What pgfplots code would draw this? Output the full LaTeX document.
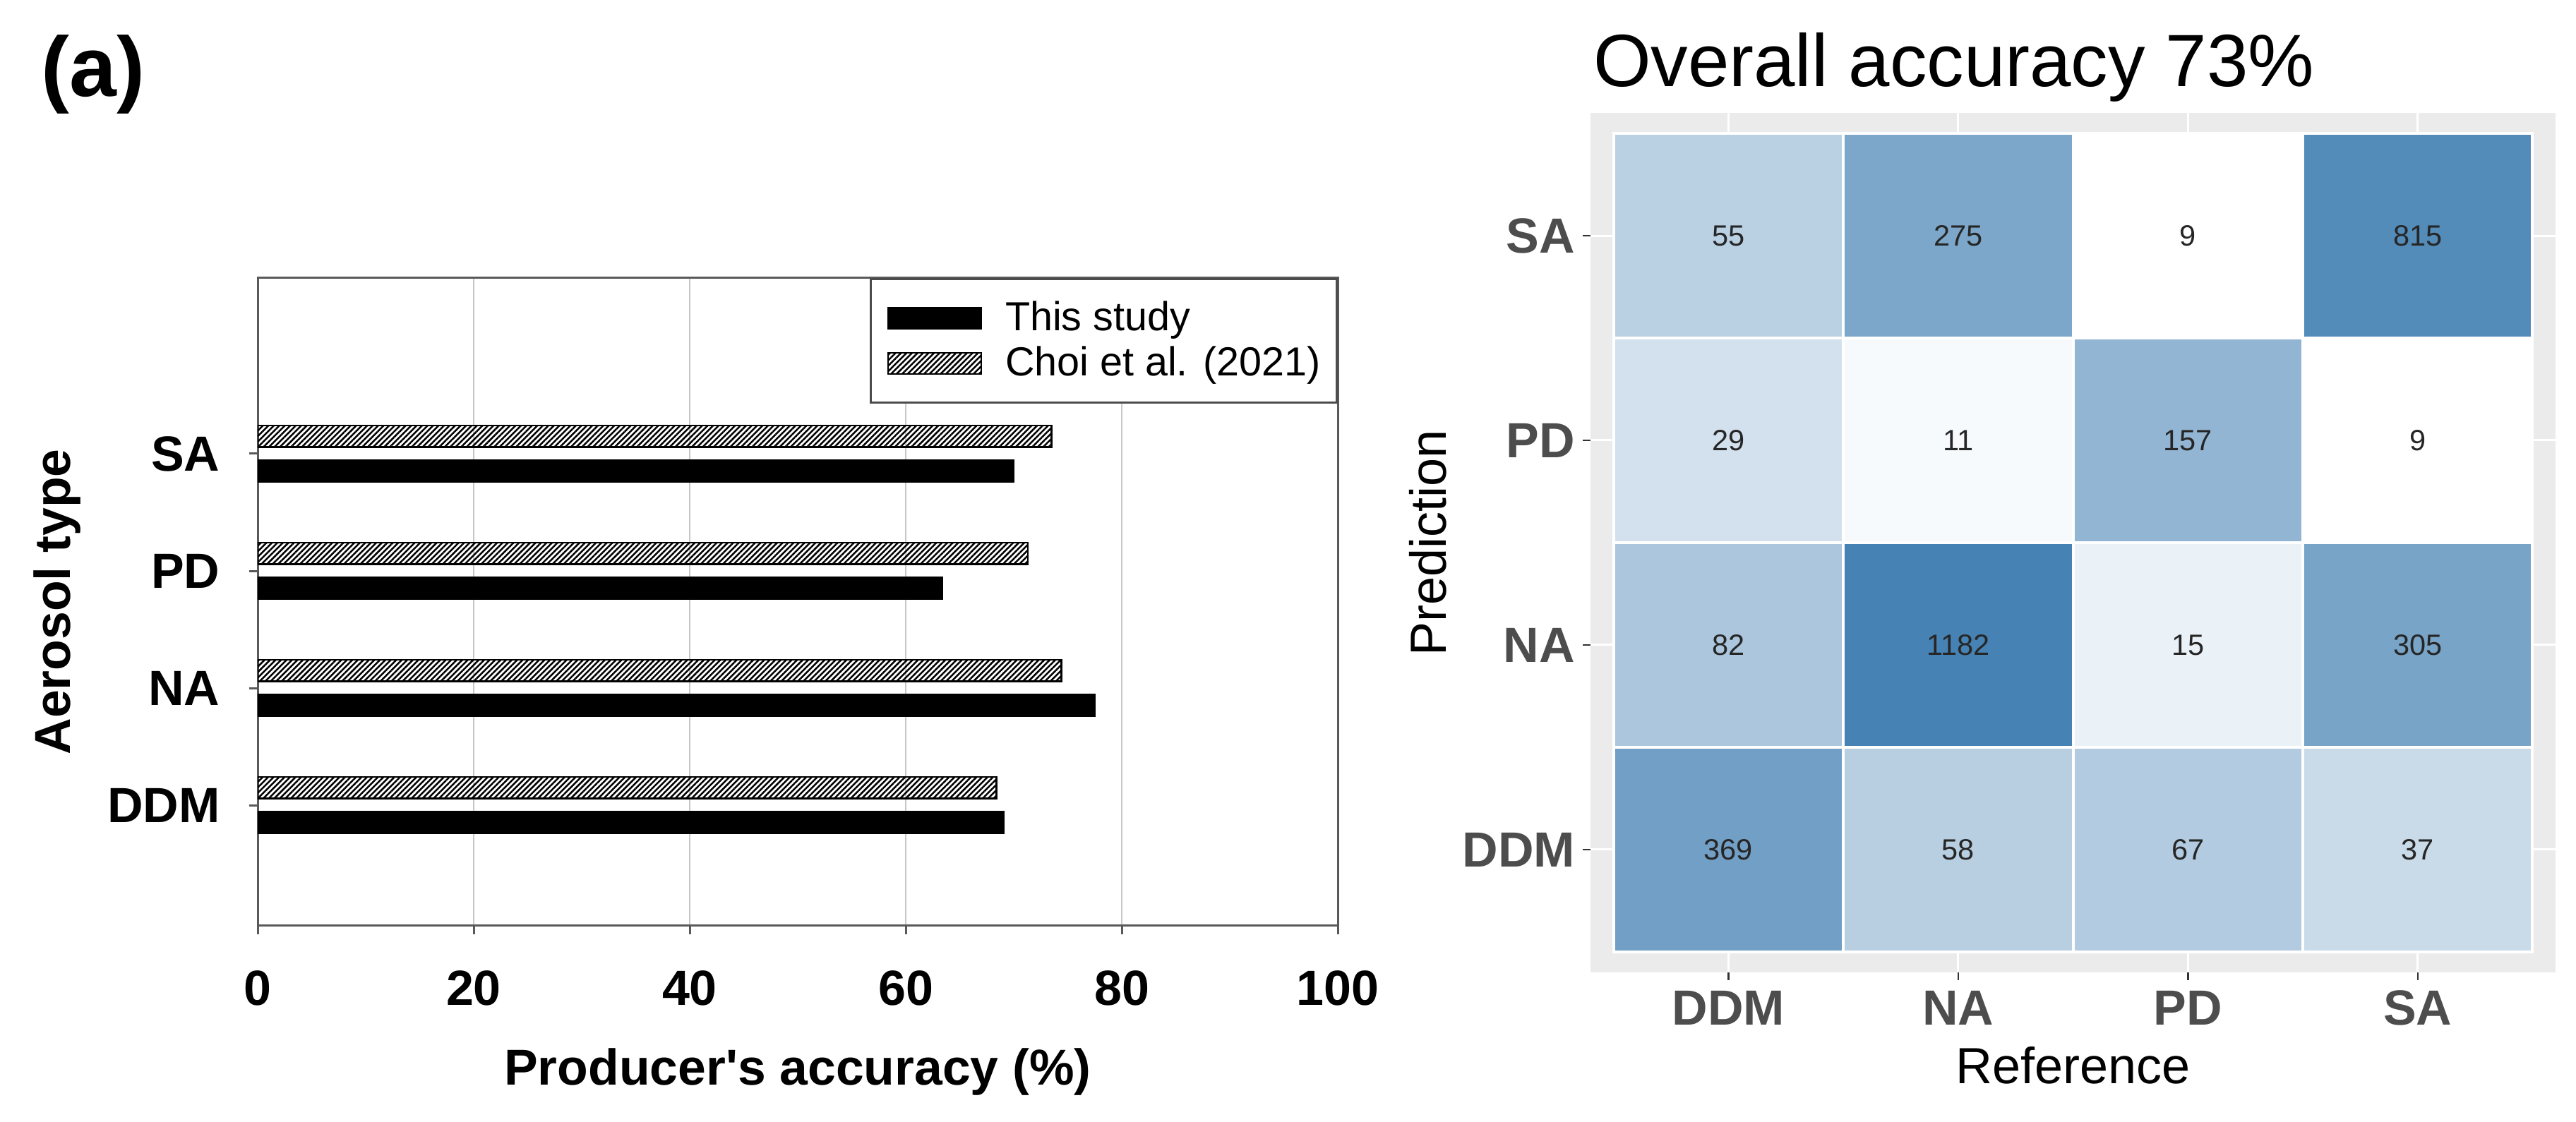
\documentclass[border=0pt]{standalone}
\usepackage{fontspec}
\setmainfont{Liberation Sans}
\usepackage{pgfplots}
\pgfplotsset{compat=1.18}
\usepackage{pgfplotstable}
\usetikzlibrary{patterns.meta}

\definecolor{ggbg}{HTML}{EBEBEB}
\definecolor{ggtick}{HTML}{333333}
\definecolor{gglab}{HTML}{4D4D4D}

\pgfplotsset{barleg/.style={legend image code/.code={\draw[##1] (0pt,-3pt) rectangle (26.4pt,3pt);}}}

\pgfplotstableread{
y this choi
1 69.1 68.4
2 77.5 74.4
3 63.4 71.3
4 70.0 73.5
}\bars

\pgfplotstableread{
x y n
1 1 369
2 1 58
3 1 67
4 1 37
1 2 82
2 2 1182
3 2 15
4 2 305
1 3 29
2 3 11
3 3 157
4 3 9
1 4 55
2 4 275
3 4 9
4 4 815
}\conf

\begin{document}
\begin{tikzpicture}
\useasboundingbox (0,0) rectangle (729.8pt,318pt);
\node[font=\bfseries\fontsize{24}{24}\selectfont, inner sep=0pt] at (26.4pt,296.8pt) {(a)};

\begin{axis}[
  at={(73pt,55.6pt)}, anchor=south west,
  width=306pt, height=183.6pt, scale only axis,
  xmin=0, xmax=100, ymin=-0.03, ymax=5.5,
  xtick={0,20,...,100}, ytick={1,2,3,4}, yticklabels={DDM,NA,PD,SA},
  xmajorgrids, ymajorgrids=false, grid style={color=black!22, line width=0.4pt},
  axis line style={color=black!65, line width=0.6pt},
  tick style={color=black!65, line width=0.6pt},
  tick align=outside, major tick length=2.5pt,
  xtick pos=left, ytick pos=left,
  /pgf/number format/assume math mode=true,
  ticklabel style={font=\bfseries\fontsize{14}{14}\selectfont, inner sep=0pt},
  xticklabel shift=10pt, yticklabel shift=8pt,
  xlabel={Producer\textquotesingle s accuracy (\%)}, ylabel={Aerosol type},
  every axis x label/.style={at={(axis description cs:0.5,-0.2255)}, anchor=center,
    font=\bfseries\fontsize{14.3}{14.3}\selectfont},
  every axis y label/.style={at={(axis description cs:-0.1856,0.5)}, anchor=center, rotate=90,
    font=\bfseries\fontsize{14.3}{14.3}\selectfont},
  legend cell align=left,
  legend style={at={(1,1)}, anchor=north east, draw=black!70, line width=0.6pt,
    font=\fontsize{11.5}{11.5}\selectfont, inner xsep=4.6pt, inner ysep=6.2pt,
    row sep=3pt, nodes={inner sep=0pt},
    /tikz/every odd column/.append style={column sep=6.6pt}},
]
\addplot[xbar, bar width=0.184, bar shift=-0.148, fill=black, draw=black, line width=0.4pt, barleg]
  table[x=this, y=y] {\bars};
\addlegendentry{This study}
\addplot[xbar, bar width=0.184, bar shift=0.148, draw=black, line width=0.5pt,
  pattern={Lines[angle=45,distance=1.1pt,line width=0.5pt]}, pattern color=black, barleg]
  table[x=choi, y=y] {\bars};
\addlegendentry{Choi et al. (2021)}
\end{axis}

\begin{axis}[
  at={(450.6pt,42.4pt)}, anchor=south west,
  width=273.4pt, height=243.6pt, scale only axis,
  xmin=0.4, xmax=4.6, ymin=0.4, ymax=4.6,
  xtick={1,2,3,4}, ytick={1,2,3,4},
  xticklabels={DDM,NA,PD,SA}, yticklabels={DDM,NA,PD,SA},
  axis background/.style={fill=ggbg},
  axis line style={draw=none},
  xmajorgrids, ymajorgrids, grid style={white, line width=0.6pt},
  tick align=outside, major tick length=2.2pt, tick style={color=ggtick, line width=0.5pt},
  xtick pos=left, ytick pos=left,
  ticklabel style={font=\bfseries\fontsize{14}{14}\selectfont, color=gglab, inner sep=0pt},
  xticklabel shift=2.8pt, yticklabel shift=2pt,
  xlabel={Reference}, ylabel={Prediction},
  every axis x label/.style={at={(axis description cs:0.5,-0.1084)}, anchor=center,
    font=\fontsize{14.4}{14.4}\selectfont},
  every axis y label/.style={at={(axis description cs:-0.1683,0.5)}, anchor=center, rotate=90,
    font=\fontsize{14.4}{14.4}\selectfont},
  title={Overall accuracy 73\%},
  every axis title/.style={at={(axis description cs:0,1)}, anchor=base west, yshift=7.6pt, xshift=0.6pt,
    font=\fontsize{21}{21}\selectfont, inner sep=0pt},
  colormap={steelmap}{rgb255=(255,255,255) rgb255=(70,130,180)},
  point meta min=2.1972, point meta max=7.0750,
]
\addplot[matrix plot*, mesh/cols=4, mesh/ordering=x varies, shader=faceted,
  faceted color=white, line width=0.8pt, point meta={ln(\thisrow{n})}]
  table[x=x, y=y] {\conf};
\addplot[only marks, mark=none, nodes near coords, nodes near coords align={center},
  point meta=explicit symbolic,
  every node near coord/.append style={font=\fontsize{8.3}{8.3}\selectfont, color=black!85}]
  table[x=x, y=y, meta=n] {\conf};
\end{axis}
\end{tikzpicture}
\end{document}
